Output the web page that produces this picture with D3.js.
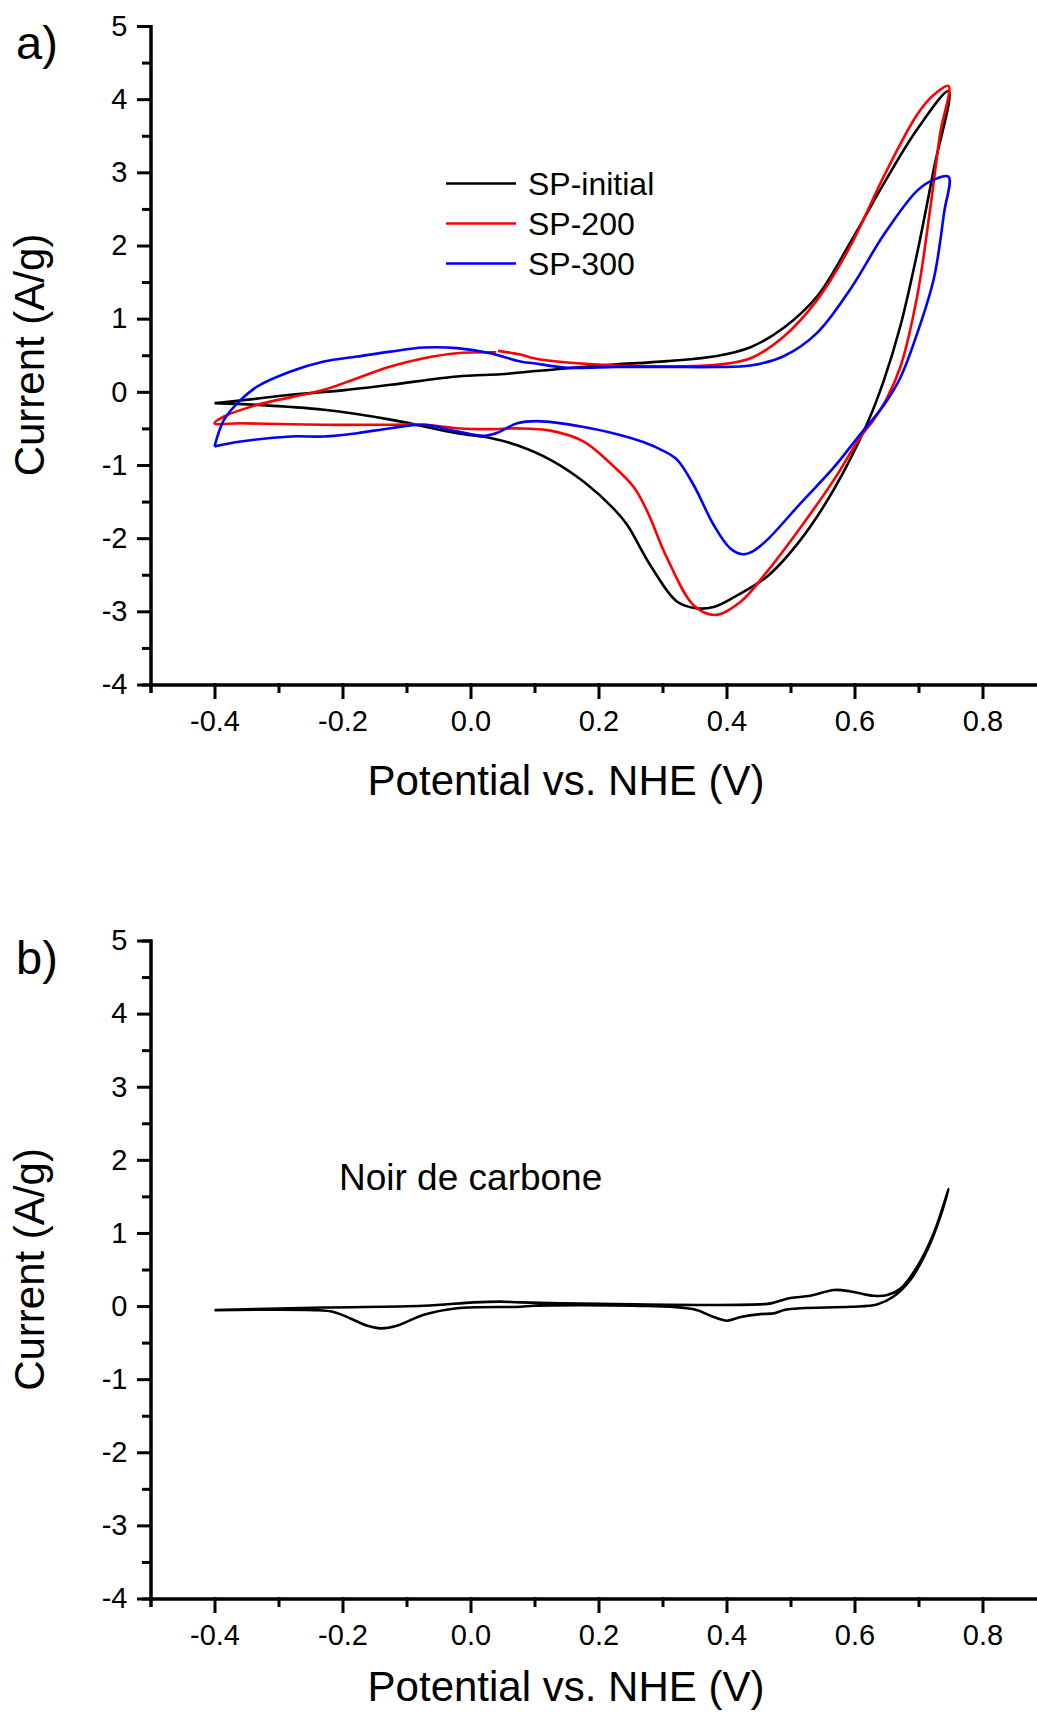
<!DOCTYPE html>
<html>
<head>
<meta charset="utf-8">
<script src="https://cdn.jsdelivr.net/npm/d3@7"></script>
<style>
  body { margin: 0; background: #fff; }
  svg text { font-family: "Liberation Sans", Arial, sans-serif; fill: #000; }
</style>
</head>
<body>
<div id="chart"></div>
<script>
// potential (V vs NHE), current (A/g)
const spInitial = [
  [-0.40, -0.155], [-0.34, -0.10], [-0.281, -0.04], [-0.20, 0.02], [-0.125, 0.096], [-0.021, 0.21],
  [0.047, 0.24], [0.078, 0.264], [0.203, 0.36], [0.307, 0.42], [0.385, 0.49], [0.4375, 0.61],
  [0.49, 0.88], [0.542, 1.31], [0.594, 2.05], [0.646, 2.85], [0.698, 3.59], [0.747, 4.11],
  [0.724, 3.05], [0.698, 1.90], [0.672, 0.91], [0.646, 0.16], [0.62, -0.43], [0.568, -1.33],
  [0.516, -2.02], [0.464, -2.52], [0.411, -2.81], [0.38, -2.94], [0.354, -2.96], [0.323, -2.87],
  [0.281, -2.37], [0.245, -1.82], [0.224, -1.60], [0.177, -1.23], [0.125, -0.93], [0.073, -0.73],
  [0.031, -0.63], [-0.021, -0.565], [-0.125, -0.38], [-0.229, -0.246], [-0.333, -0.178], [-0.40, -0.155]
];
const sp200 = [
  [0.043, 0.56], [0.078, 0.51], [0.099, 0.46], [0.151, 0.40], [0.229, 0.36], [0.307, 0.35],
  [0.385, 0.37], [0.4375, 0.46], [0.49, 0.76], [0.542, 1.26], [0.594, 2.0], [0.646, 2.95],
  [0.698, 3.79], [0.724, 4.06], [0.747, 4.18], [0.734, 3.54], [0.719, 2.55], [0.698, 1.31],
  [0.672, 0.35], [0.65, -0.1], [0.63, -0.38], [0.609, -0.62], [0.568, -1.2], [0.516, -1.85],
  [0.464, -2.45], [0.422, -2.87], [0.383, -3.05], [0.349, -2.92], [0.307, -2.27], [0.276, -1.63],
  [0.255, -1.30], [0.219, -0.98], [0.177, -0.68], [0.125, -0.53], [0.073, -0.50], [0.031, -0.51],
  [-0.021, -0.497], [-0.073, -0.45], [-0.125, -0.45], [-0.229, -0.45], [-0.359, -0.43], [-0.40, -0.43],
  [-0.385, -0.337], [-0.333, -0.178], [-0.229, 0.027], [-0.177, 0.187], [-0.125, 0.346],
  [-0.073, 0.46], [-0.021, 0.528], [0.04, 0.54]
];
const sp300 = [
  [-0.40, -0.747], [-0.385, -0.38], [-0.359, -0.11], [-0.333, 0.073], [-0.281, 0.277], [-0.229, 0.414],
  [-0.177, 0.482], [-0.125, 0.55], [-0.073, 0.605], [-0.021, 0.597], [0.031, 0.528], [0.078, 0.414],
  [0.099, 0.39], [0.151, 0.33], [0.229, 0.34], [0.307, 0.34], [0.385, 0.34], [0.4375, 0.36],
  [0.49, 0.49], [0.542, 0.81], [0.594, 1.41], [0.646, 2.15], [0.698, 2.75], [0.724, 2.90],
  [0.747, 2.94], [0.74, 2.45], [0.724, 1.55], [0.698, 0.8], [0.672, 0.2], [0.646, -0.18],
  [0.609, -0.58], [0.568, -1.03], [0.516, -1.52], [0.464, -2.02], [0.443, -2.17], [0.426, -2.22],
  [0.406, -2.14], [0.38, -1.82], [0.349, -1.28], [0.323, -0.93], [0.302, -0.81], [0.271, -0.69],
  [0.229, -0.58], [0.177, -0.48], [0.104, -0.40], [0.073, -0.43], [0.042, -0.56], [0.021, -0.60],
  [-0.021, -0.54], [-0.073, -0.45], [-0.125, -0.497], [-0.177, -0.565], [-0.229, -0.61],
  [-0.281, -0.61], [-0.359, -0.68], [-0.40, -0.747]
];
const noirCarbone = [
  [-0.40, -0.055], [-0.229, -0.02], [-0.073, 0.005], [0.005, 0.05], [0.047, 0.06], [0.078, 0.05],
  [0.203, 0.03], [0.464, 0.03], [0.479, 0.06], [0.50, 0.11], [0.531, 0.14], [0.568, 0.22],
  [0.594, 0.20], [0.63, 0.14], [0.651, 0.15], [0.672, 0.24], [0.698, 0.54], [0.724, 1.0],
  [0.747, 1.6], [0.734, 1.22], [0.714, 0.77], [0.6875, 0.36], [0.661, 0.13], [0.635, 0.02],
  [0.594, -0.01], [0.516, -0.03], [0.49, -0.055], [0.474, -0.10], [0.453, -0.11], [0.422, -0.15],
  [0.401, -0.20], [0.38, -0.15], [0.349, -0.045], [0.255, 0.005], [0.099, 0.005], [0.078, -0.01],
  [-0.021, -0.03], [-0.073, -0.12], [-0.115, -0.27], [-0.14, -0.305], [-0.161, -0.27],
  [-0.1875, -0.17], [-0.214, -0.08], [-0.245, -0.055], [-0.40, -0.055]
];

const seriesNames = ["SP-initial", "SP-200", "SP-300"];
const seriesColors = ["#000000", "#ff0000", "#0000ff"];
const xMajorTicks = [-0.4, -0.2, 0.0, 0.2, 0.4, 0.6, 0.8];
const xMinorTicks = [-0.5, -0.3, -0.1, 0.1, 0.3, 0.5, 0.7, 0.9];
const yMajorTicks = [-4, -3, -2, -1, 0, 1, 2, 3, 4, 5];
const yMinorTicks = [-3.5, -2.5, -1.5, -0.5, 0.5, 1.5, 2.5, 3.5, 4.5];

const width = 1037, height = 1713;
const svg = d3.select("#chart").append("svg")
  .attr("width", width)
  .attr("height", height);

const x = d3.scaleLinear().domain([-0.5, 0.9]).range([150.5, 1046.5]);

function drawPanel (top, bottom, letter, titleGap) {
  const y = d3.scaleLinear().domain([-4, 5]).range([bottom, top]);
  const g = svg.append("g");

  //minor ticks first, major axes on top
  g.append("g").attr("transform", "translate(150.5,0)")
    .call(d3.axisLeft(y).tickValues(yMinorTicks).tickSize(7).tickFormat(""));
  g.append("g").attr("transform", "translate(0," + bottom + ")")
    .call(d3.axisBottom(x).tickValues(xMinorTicks).tickSize(7).tickFormat(""));

  g.append("g").attr("transform", "translate(150.5,0)")
    .call(d3.axisLeft(y).tickValues(yMajorTicks).tickSize(12).tickSizeOuter(0)
      .tickPadding(11).tickFormat(d => String(d)));
  g.append("g").attr("transform", "translate(0," + bottom + ")")
    .call(d3.axisBottom(x).tickValues(xMajorTicks).tickSize(13).tickSizeOuter(0)
      .tickPadding(13).tickFormat(d => d.toFixed(1)));

  g.selectAll(".domain, .tick line")
    .attr("stroke", "#000")
    .attr("stroke-width", 3)
    .attr("stroke-linecap", "square");
  g.selectAll(".tick text")
    .attr("font-size", 29)
    .attr("font-family", '"Liberation Sans", Arial, sans-serif')
    .attr("fill", "#000");

  //axis titles
  g.append("text")
    .attr("x", 566)
    .attr("y", bottom + titleGap)
    .attr("text-anchor", "middle")
    .attr("font-size", 42)
    .text("Potential vs. NHE (V)");
  g.append("text")
    .attr("transform", "translate(44," + (top + 329) + ") rotate(-90)")
    .attr("text-anchor", "middle")
    .attr("font-size", 42)
    .text("Current (A/g)");

  g.append("text")
    .attr("x", 16)
    .attr("y", top + 33)
    .attr("font-size", 47)
    .text(letter);

  return {g: g, y: y};
}

function drawCurve (panel, data, color) {
  const line = d3.line()
    .x(d => x(d[0]))
    .y(d => panel.y(d[1]))
    .curve(d3.curveCatmullRom.alpha(0.5));
  panel.g.append("path")
    .datum(data)
    .attr("fill", "none")
    .attr("stroke", color)
    .attr("stroke-width", 2.6)
    .attr("stroke-linejoin", "round")
    .attr("d", line);
}

//panel a
const panelA = drawPanel(26, 684.5, "a)", 110);
[spInitial, sp200, sp300].forEach((s, i) => drawCurve(panelA, s, seriesColors[i]));

const legend = panelA.g.append("g");
seriesNames.forEach((name, i) => {
  const ly = 183.5 + i * 40;
  legend.append("line")
    .attr("x1", 446).attr("x2", 516)
    .attr("y1", ly).attr("y2", ly)
    .attr("stroke", seriesColors[i])
    .attr("stroke-width", 2.6);
  legend.append("text")
    .attr("x", 528)
    .attr("y", ly + 11)
    .attr("font-size", 32)
    .text(name);
});

//panel b
const panelB = drawPanel(940.5, 1598.5, "b)", 102);
drawCurve(panelB, noirCarbone, "#000000");
panelB.g.append("text")
  .attr("x", 339)
  .attr("y", 1190)
  .attr("font-size", 37)
  .text("Noir de carbone");
</script>
</body>
</html>
